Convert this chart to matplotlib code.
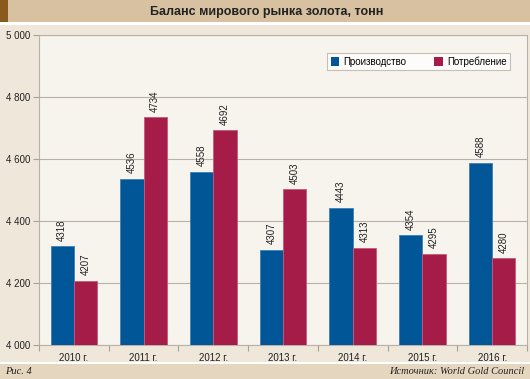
import matplotlib
matplotlib.use("Agg")
import matplotlib.pyplot as plt
from matplotlib.patches import Rectangle
import numpy as np

years = ["2010 г.", "2011 г.", "2012 г.", "2013 г.", "2014 г.", "2015 г.", "2016 г."]
production = [4318, 4536, 4558, 4307, 4443, 4354, 4588]
consumption = [4207, 4734, 4692, 4503, 4313, 4295, 4280]
yticks = [4000, 4200, 4400, 4600, 4800, 5000]
ytick_labels = ["4 000", "4 200", "4 400", "4 600", "4 800", "5 000"]
series_names = ["Производство", "Потребление"]

W, H = 530, 379
fig = plt.figure(figsize=(W / 100, H / 100), dpi=100)
fig.patch.set_facecolor("#efe7da")
plt.rcParams["font.family"] = ["Liberation Sans", "DejaVu Sans"]

def fx(px):
    return px / W

def fy(py):
    return 1 - py / H

# title band
fig.patches.append(Rectangle((0, fy(22)), 1, 22 / H, transform=fig.transFigure,
                             facecolor="#d8c1a0", edgecolor="none", zorder=0))
fig.patches.append(Rectangle((0, fy(22)), fx(8), 22 / H, transform=fig.transFigure,
                             facecolor="#8a5a1c", edgecolor="none", zorder=1))
fig.patches.append(Rectangle((0, fy(25)), 1, 3 / H, transform=fig.transFigure,
                             facecolor="white", edgecolor="none", zorder=0))
fig.text(fx(267), fy(11.5), "Баланс мирового рынка золота, тонн", ha="center", va="center",
         fontsize=9, fontweight="bold", color="#222222")

# bottom band
fig.patches.append(Rectangle((0, 0), 1, 15 / H, transform=fig.transFigure,
                             facecolor="#e5d6c0", edgecolor="none", zorder=0))
fig.patches.append(Rectangle((0, 15 / H), 1, 2 / H, transform=fig.transFigure,
                             facecolor="white", edgecolor="none", zorder=0))
fig.text(fx(5), fy(372), "Рис. 4", ha="left", va="center", fontsize=7.5,
         style="italic", family=["Liberation Serif", "DejaVu Serif"], color="#222222")
fig.text(fx(524), fy(372), "Источник: World Gold Council", ha="right", va="center", fontsize=7.5,
         style="italic", family=["Liberation Serif", "DejaVu Serif"], color="#222222")

ax = fig.add_axes([fx(39), fy(345), fx(527 - 39), (345 - 35) / H])
ax.set_facecolor("#f7f3ed")

x = np.arange(len(years))
bw = 0.335
c_prod = "#005696"
c_cons = "#a61c48"
b1 = ax.bar(x - bw / 2, production, bw, color=c_prod, edgecolor="#3f7fb4", linewidth=0.6, zorder=3)
b2 = ax.bar(x + bw / 2, consumption, bw, color=c_cons, edgecolor="#c45a7c", linewidth=0.6, zorder=3)

for bars, vals in ((b1, production), (b2, consumption)):
    for rect, v in zip(bars, vals):
        ax.annotate(str(v), (rect.get_x() + rect.get_width() / 2, v), xytext=(0, 4),
                    textcoords="offset points", rotation=90, ha="center", va="bottom",
                    fontsize=7, color="#222222", zorder=4)

ax.set_ylim(4000, 5000)
ax.set_xlim(-0.5, len(years) - 0.5)
ax.set_yticks(yticks)
ax.set_yticklabels(ytick_labels)
ax.yaxis.grid(True, color="#b9b1a8", linewidth=0.8, zorder=0)
ax.set_axisbelow(True)

ax.set_xticks(x)
ax.set_xticklabels(years)
ax.set_xticks(np.arange(len(years) + 1) - 0.5, minor=True)
ax.tick_params(axis="x", which="major", length=0, pad=6, labelsize=7, labelcolor="#222222")
ax.tick_params(axis="x", which="minor", length=4, color="#a9a197", width=0.8)
ax.tick_params(axis="y", length=4, color="#a9a197", width=0.8, labelsize=7, labelcolor="#222222", pad=2)

for s in ax.spines.values():
    s.set_color("#b9b1a8")
    s.set_linewidth(0.8)

leg = ax.legend([b1, b2], series_names, loc="upper right",
                bbox_to_anchor=(fx(510 - 39) / fx(527 - 39), 1 - 18 / 310),
                ncol=2, fontsize=7, frameon=True, fancybox=False, handlelength=0.9, handleheight=0.9,
                columnspacing=2.9, handletextpad=0.4, borderpad=0.35, borderaxespad=0,
                facecolor="white", edgecolor="#b9b1a8")
leg.get_frame().set_linewidth(0.8)
for h in leg.legend_handles:
    h.set_linewidth(0)

fig.savefig("out.png", dpi=100, facecolor=fig.get_facecolor())
